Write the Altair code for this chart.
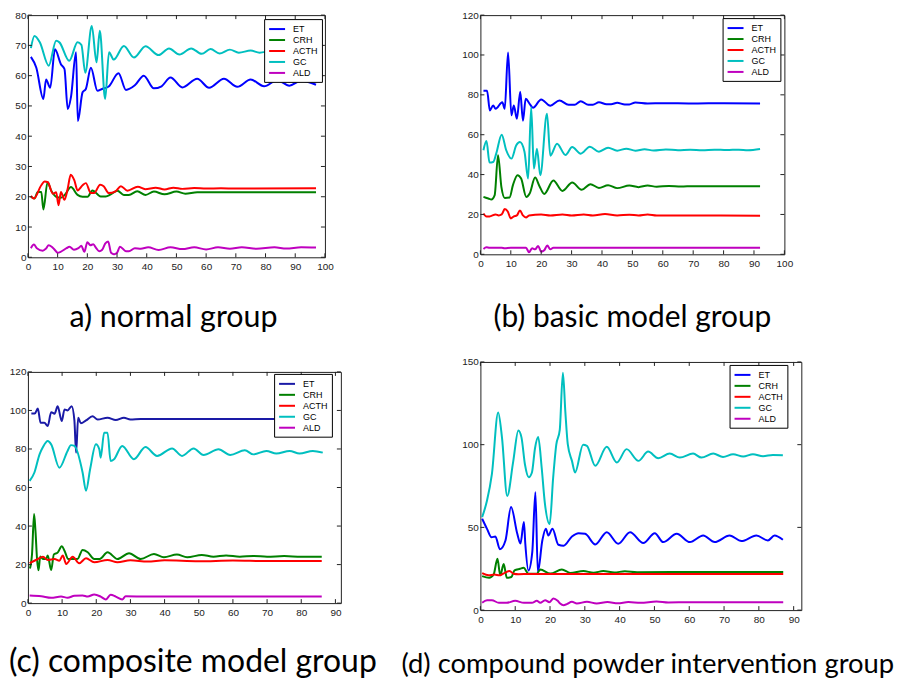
import altair as alt
import pandas as pd

SERIES = ["ET", "CRH", "ACTH", "GC", "ALD"]

# ---------------- panel a) normal group ----------------
a_ET_x = [1, 2.8, 5.2, 6.1, 7.5, 9.1, 11.1, 12.3, 13.4, 14.5, 16.2, 16.8, 18.4, 19.5, 21.2, 23.4, 25, 27.2, 30.5, 33, 36, 39, 42.4, 45, 48, 52, 57, 61, 66, 70.5, 75, 79.5, 84, 88, 92, 97]
a_ET_y = [66.2, 62.7, 52.3, 58.7, 56, 68.7, 63.8, 62.2, 49, 53, 67.7, 45, 54.5, 55.6, 62.6, 55, 55.6, 56.4, 60.8, 55.3, 56.8, 60, 55.8, 56.5, 59.4, 56.1, 59, 56, 59, 56.3, 58.7, 56.5, 58.5, 56.7, 58.3, 57]
a_CRH_x = [1, 2.2, 3.3, 4.5, 5.2, 6.6, 7.8, 9.5, 11.1, 12.3, 14.5, 16.7, 18.4, 20.1, 21.7, 24.5, 26.2, 27.9, 30.1, 32.3, 34, 36.8, 39.6, 42.4, 46, 50, 53, 57, 60, 65, 70, 80, 97]
a_CRH_y = [20, 19.4, 21.6, 21.6, 15.8, 24.8, 22.1, 20, 19.7, 20.5, 23.2, 20.6, 20, 20, 22.1, 20.1, 20.1, 20.8, 22, 20.6, 20.6, 21.8, 20.6, 21.7, 20.8, 21.7, 21, 21.5, 21.5, 21.5, 21.5, 21.5, 21.5]
a_ACTH_x = [1, 2, 4.5, 5.6, 6.7, 8.4, 9.5, 10.3, 11.1, 12.3, 13.4, 14.4, 15.6, 16.7, 18.4, 19.5, 21.2, 22.3, 24.3, 25.5, 27.2, 29.5, 31.3, 33.5, 37, 39.5, 43, 46, 49, 52, 56, 60, 65, 70, 97]
a_ACTH_y = [20.3, 19.4, 23.8, 25, 24.8, 21, 21.5, 17.2, 21.6, 19, 22.7, 27.3, 25.5, 22.1, 23.8, 24.5, 21.2, 21.2, 24, 23.5, 21.2, 21.8, 23.5, 22, 23.3, 22.5, 23, 22.4, 23, 22.6, 22.9, 22.7, 22.8, 22.7, 22.8]
a_GC_x = [1, 2.2, 4, 7, 9.5, 10.6, 13.9, 16.7, 18, 19.3, 21.5, 23.1, 24.2, 26, 27.3, 28.9, 32.3, 35.7, 39.6, 44, 47.5, 51, 55, 58.5, 61.5, 64.5, 68, 71, 75, 78, 82, 86, 90, 94, 97]
a_GC_y = [69.1, 73.1, 71, 63.3, 71.5, 71, 64.9, 71, 70.2, 61, 76.4, 64.4, 74.8, 52.3, 67.7, 65.3, 69.8, 66, 69.7, 66.8, 69, 67, 69, 67.2, 68.8, 67.3, 68.6, 67.6, 68.3, 67.6, 68.1, 67.7, 68, 67.8, 67.9]
a_ALD_x = [1, 2, 3, 5, 6, 7, 8, 9, 10, 11, 13, 14, 15.5, 17, 18, 19, 20, 21, 22, 23, 24, 25, 26, 27, 28, 29, 30, 31, 33, 34, 36, 38, 40.5, 44, 48, 52, 56, 60, 64, 68, 72, 77, 83, 87, 92, 97]
a_ALD_y = [3, 4.2, 3, 2.2, 2.8, 4, 3.5, 2.5, 1.5, 1.8, 3, 3.5, 2.5, 3, 3.8, 1.8, 5, 4, 4.3, 3, 2, 2.5, 4.5, 5.2, 1.5, 1, 1.5, 3.5, 2, 2, 3, 2.8, 3.3, 2.4, 3.3, 2.7, 3.3, 2.6, 3.3, 2.8, 3.3, 2.8, 3.3, 2.9, 3.3, 3.2]

# ---------------- panel (b) basic model group ----------------
b_ET_x = [1, 2.2, 3.1, 4.2, 5, 7.2, 8, 9.1, 10.2, 11, 12, 13.1, 14, 14.9, 16.2, 17.3, 20, 23, 26, 29, 31, 33, 35.5, 37, 39, 41.5, 43, 45, 47.5, 49, 51, 55, 60, 70, 80, 92]
b_ET_y = [82, 82, 72.2, 74.7, 73, 76.3, 73, 101.3, 69.7, 74.7, 68, 81.5, 67, 78, 75.5, 73.5, 77.7, 74.5, 77.2, 75, 75, 76.8, 75, 75, 76.3, 75.3, 75.3, 76, 75.2, 75.2, 76.2, 75.7, 75.8, 75.7, 75.8, 75.7]
b_CRH_x = [1, 2.6, 3.6, 4.7, 5.8, 6.9, 8, 9.6, 10.7, 12.2, 13.4, 15.1, 16.2, 18, 19.4, 21, 24, 27, 30.2, 33.3, 36.2, 39, 42, 45, 49, 52, 55, 58, 62, 66, 70, 80, 92]
b_CRH_y = [28.8, 28, 27.5, 29.7, 49.7, 33.8, 28.3, 28.5, 34.7, 39.7, 38, 28.8, 30.5, 38.5, 34.3, 30.3, 37, 31.8, 36, 32.4, 35.2, 33.3, 34.7, 33.2, 34.5, 33.7, 34.5, 33.9, 34.3, 34, 34.2, 34.2, 34.2]
b_ACTH_x = [1, 2, 3, 5, 6, 7, 8, 9, 10, 11, 12, 13, 14, 15, 16, 20, 23, 27, 30, 34, 37, 41, 45, 49, 52, 55, 58, 70, 92]
b_ACTH_y = [20.5, 19, 19, 20, 19.5, 20, 22.7, 21.5, 18, 19, 19.5, 22, 19.5, 18.5, 19.5, 20, 19.5, 20, 19.5, 20, 19.5, 20.2, 19.5, 19.9, 19.5, 20, 19.5, 19.5, 19.4]
b_GC_x = [1, 2, 3, 4.2, 5.2, 7, 8.5, 10.2, 11.8, 13, 14.5, 15.7, 16.7, 17.6, 18.6, 19.7, 21.9, 23, 25.2, 28, 30.2, 33, 36, 39, 42, 45, 48, 51, 54, 57, 61, 65, 69, 73, 77, 81, 85, 88, 92]
b_GC_y = [52.2, 56.8, 46, 46.3, 50.5, 60, 52.2, 48, 54.7, 56.3, 51.5, 38, 73.8, 43, 53, 39.7, 70.5, 49.5, 55.5, 49.8, 53.8, 50.5, 54, 51.5, 53.5, 52, 53, 52, 52.7, 52.1, 52.6, 52.2, 52.5, 52.2, 52.5, 52.3, 52.5, 52.2, 52.8]
b_ALD_x = [1, 2, 3, 5, 7, 8, 10, 15, 16, 17, 18, 19, 20, 21, 22, 23, 24, 30, 92]
b_ALD_y = [2.7, 3.5, 3.3, 3.3, 3.3, 3, 3.3, 3.3, 1, 3, 2.5, 4.2, 1.3, 2, 4.4, 2.5, 3.3, 3.3, 3.3]

# ---------------- panel (c) composite model group ----------------
c_ET_x = [1, 2, 2.9, 3.7, 4.8, 5.8, 6.8, 7.8, 8.7, 9.9, 10.7, 11.6, 12.8, 13.6, 14.1, 14.7, 15.5, 17, 18.9, 20.4, 23.3, 25.7, 28.1, 30, 33, 40, 60, 86]
c_ET_y = [98.4, 98.4, 101, 93.6, 93.6, 91.9, 99.1, 98.3, 102.2, 94.5, 100.5, 100, 102.2, 94.8, 78.1, 96.2, 93.3, 94.8, 97, 95.3, 96.2, 95, 96.2, 95.3, 95.6, 95.5, 95.5, 95.5]
c_CRH_x = [0.6, 1.2, 1.8, 2.2, 2.7, 3.1, 3.6, 4.4, 5.3, 5.8, 6.8, 7.6, 8.7, 9.9, 10.7, 11.8, 13.1, 14.5, 16, 17.5, 19.4, 21, 23.3, 26.2, 29.6, 33, 36.9, 39.8, 43.6, 46.6, 50.9, 54.3, 58, 62, 66, 70, 75, 80, 86]
c_CRH_y = [18, 25.5, 46.2, 37.6, 22, 17, 24.2, 22.9, 22.9, 24.7, 17.2, 25.3, 26.2, 29.5, 27.2, 22.9, 22.9, 22.9, 27.6, 26.4, 22.9, 22.9, 26.4, 22.9, 25.9, 22.9, 25.5, 23.8, 25.2, 23.8, 25, 24.1, 24.7, 24.1, 24.5, 24.1, 24.4, 24.1, 24.1]
c_ACTH_x = [0.5, 2.9, 4.4, 5.8, 7.8, 9.2, 10.2, 11.2, 13.1, 15, 17, 19.4, 23.3, 26.2, 30, 35, 40, 50, 60, 70, 86]
c_ACTH_y = [20.7, 22.9, 24.1, 22.4, 22.9, 22, 24.7, 20.3, 24.1, 20.7, 23.3, 21.2, 22.4, 21.2, 22.2, 21.6, 22.2, 21.7, 22.1, 21.8, 21.8]
c_GC_x = [0.5, 1.9, 3.4, 4.4, 5.8, 6.8, 9.2, 11.6, 12.6, 13.6, 16, 17, 18.2, 19.9, 20.9, 21.3, 22.3, 23.3, 24.2, 25.2, 27.6, 31, 34.4, 37.8, 42.2, 45.1, 48.5, 51.4, 55.8, 59.2, 63.5, 66, 69.8, 72.7, 76.6, 79.5, 83.4, 86.3]
c_GC_y = [63.4, 67.8, 77.2, 81, 84.1, 82.4, 70.3, 79, 82, 81.6, 67.8, 58.3, 69.5, 82.4, 79.8, 75.5, 88.4, 88.4, 73.8, 74.7, 81.6, 74.7, 81, 76.4, 80.3, 76.4, 80.3, 76.9, 79.8, 76.9, 79.3, 77.2, 79, 77.6, 79, 77.6, 79, 78.1]
c_ALD_x = [0.5, 3.9, 6.8, 9.7, 11.6, 13.6, 16, 17.5, 19.4, 21.3, 22.8, 24.2, 25.7, 27.6, 28.6, 35, 86]
c_ALD_y = [4, 3.6, 2.8, 3.4, 2.8, 3.8, 4, 3.4, 4.5, 3.4, 1.9, 4.3, 3.4, 1.9, 3.6, 3.4, 3.4]

# ---------------- panel (d) compound powder intervention group ----------------
d_ET_x = [0.5, 1.9, 3.2, 4.3, 5.6, 7.2, 8.8, 10.6, 11.5, 12.5, 12.9, 13.8, 14.9, 15.8, 16.5, 17.8, 18.8, 19.5, 20.7, 22.4, 23.9, 26.3, 28.2, 30.1, 33, 36.3, 39.6, 43, 46.8, 50.1, 52.5, 56.4, 60.2, 64, 67.3, 71.6, 75, 79.3, 82.6, 84.5, 86.9]
d_ET_y = [55.2, 49.1, 44, 44.5, 36.8, 42.1, 62.3, 46.1, 40.2, 53.2, 40.1, 23.9, 35, 71.3, 23, 42.2, 49.2, 45.1, 49.2, 39.5, 38.9, 44.5, 46.5, 46.1, 39.7, 47.1, 40.1, 47.1, 40.5, 46.5, 41.1, 46.1, 41.1, 45.1, 41.1, 45.1, 41.7, 45.1, 42.1, 45.1, 42.5]
d_CRH_x = [0.5, 2.5, 3.8, 4.9, 5.7, 6.7, 7.6, 8.9, 9.8, 11.4, 12.4, 13.8, 16.2, 17.2, 20.1, 23.4, 25.8, 29.6, 32.5, 35.3, 38.5, 41.5, 45, 55, 70, 87]
d_CRH_y = [20.5, 19.5, 21.5, 31, 21, 27.8, 19.5, 20, 24, 25, 25.6, 22, 22, 24.5, 22.1, 24.5, 22.5, 23.6, 22.6, 23.6, 22.7, 23.5, 22.9, 23, 23, 23]
d_ACTH_x = [0.5, 2.4, 4, 5.5, 7, 8.4, 9.5, 11, 14, 20, 87]
d_ACTH_y = [22.3, 21, 21.5, 21, 22.5, 23.6, 22, 21.7, 21.8, 21.8, 21.8]
d_GC_x = [0.5, 1.9, 3.3, 5.1, 6.2, 7.7, 9.4, 10.9, 11.8, 12.8, 13.9, 14.8, 15.7, 16.6, 17.6, 18.5, 19.9, 20.9, 21.8, 22.8, 23.7, 24.4, 25.1, 26.3, 27.2, 29.5, 30.6, 33, 36.3, 39.2, 42, 45.4, 48.2, 51.1, 54.4, 57.3, 61.1, 63.5, 66.9, 69.7, 72.6, 75.5, 78.3, 81.2, 84, 86.9]
d_GC_y = [56.2, 66.2, 82.2, 119.4, 104.3, 69, 89.4, 108.6, 104.4, 88, 80.3, 83.2, 98, 104.6, 86.2, 65, 52, 80, 100, 109, 143.5, 120, 100.3, 90.2, 83.2, 100, 99.3, 87.2, 98.7, 89.2, 97.3, 90.2, 95.8, 91.8, 94.6, 92.2, 94.6, 92.2, 94.6, 92.6, 94.2, 92.8, 94.2, 93, 93.8, 93.6]
d_ALD_x = [0.5, 1.9, 3.3, 5.3, 7.5, 10, 12.5, 14.8, 16.2, 17.2, 18.6, 19.8, 21, 22.2, 22.9, 23.9, 24.8, 26.3, 27.7, 30.6, 33.4, 36.5, 39.5, 42.5, 46, 50.6, 54, 60, 87]
d_ALD_y = [4.4, 6, 6, 4.4, 4.4, 5.6, 4.4, 4.4, 5.6, 4.4, 6, 4.8, 7, 5.6, 4, 3, 3.6, 5, 4, 5, 4, 4.9, 4.1, 4.9, 4.4, 5.2, 4.6, 4.8, 4.8]

# axis ticks
a_xticks = [0, 10, 20, 30, 40, 50, 60, 70, 80, 90, 100]
a_yticks = [0, 10, 20, 30, 40, 50, 60, 70, 80]
b_xticks = [0, 10, 20, 30, 40, 50, 60, 70, 80, 90, 100]
b_yticks = [0, 20, 40, 60, 80, 100, 120]
c_xticks = [0, 10, 20, 30, 40, 50, 60, 70, 80, 90]
c_yticks = [0, 20, 40, 60, 80, 100, 120]
d_xticks = [0, 10, 20, 30, 40, 50, 60, 70, 80, 90]
d_yticks = [0, 50, 100, 150]

COLORS = ["#0000FF", "#008000", "#FF0000", "#00BFBF", "#BF00BF"]
COLORS_C = ["#1A1AA6", "#008000", "#FF0000", "#00BFBF", "#BF00BF"]

LABEL_FONT = "Liberation Sans"
CAP_FONT = "Lato"


def make_df(prefix):
    g = globals()
    rows = []
    for s in SERIES:
        for x, y in zip(g[f"{prefix}_{s}_x"], g[f"{prefix}_{s}_y"]):
            rows.append({"series": s, "x": x, "y": y})
    return pd.DataFrame(rows)


def panel(prefix, colors, xmax, xticks, ymax, yticks, W, H, caption,
          cap_size, cap_dx, cap_offset, leg_x, leg_y):
    df = make_df(prefix)
    xs = alt.Scale(domain=[0, xmax], nice=False, zero=False)
    ys = alt.Scale(domain=[0, ymax], nice=False, zero=False)
    xax = alt.Axis(values=xticks, title=None, format="d")
    yax = alt.Axis(values=yticks, title=None, format="d")
    lines = alt.Chart(df).mark_line(strokeWidth=2, interpolate="monotone").encode(
        x=alt.X("x:Q", scale=xs, axis=xax),
        y=alt.Y("y:Q", scale=ys, axis=yax),
        color=alt.Color("series:N",
                        scale=alt.Scale(domain=SERIES, range=colors),
                        sort=SERIES,
                        legend=alt.Legend(title=None, orient="none",
                                          legendX=leg_x, legendY=leg_y,
                                          fillColor="white",
                                          strokeColor="black",
                                          padding=4, cornerRadius=0,
                                          symbolType="M-1.6,0H1.6",
                                          symbolSize=100,
                                          symbolOffset=3,
                                          symbolStrokeWidth=2,
                                          labelFont=LABEL_FONT,
                                          labelFontSize=9,
                                          labelOffset=10,
                                          rowPadding=0)),
        detail="series:N",
    )
    tx = pd.DataFrame({"x": xticks})
    ty = pd.DataFrame({"y": yticks})
    tick = dict(color="#222222", strokeWidth=1)
    bot = alt.Chart(tx).mark_rule(**tick).encode(
        x=alt.X("x:Q", scale=xs, axis=xax), y=alt.value(H), y2=alt.value(H - 4))
    top = alt.Chart(tx).mark_rule(**tick).encode(
        x=alt.X("x:Q", scale=xs, axis=xax), y=alt.value(0), y2=alt.value(4))
    lft = alt.Chart(ty).mark_rule(**tick).encode(
        y=alt.Y("y:Q", scale=ys, axis=yax), x=alt.value(0), x2=alt.value(4))
    rgt = alt.Chart(ty).mark_rule(**tick).encode(
        y=alt.Y("y:Q", scale=ys, axis=yax), x=alt.value(W), x2=alt.value(W - 4))
    return alt.layer(lines, bot, top, lft, rgt).properties(
        width=W, height=H,
        title=alt.TitleParams(text=caption, orient="bottom", anchor="middle",
                              font=CAP_FONT, fontSize=cap_size,
                              fontWeight="normal", color="black",
                              dx=cap_dx, offset=cap_offset),
    )


pa = panel("a", COLORS, 100, a_xticks, 80, a_yticks, 298, 243,
           "a) normal group", 30.5, -3, 32, 237, 4)
pb = panel("b", COLORS, 100, b_xticks, 120, b_yticks, 305, 240,
           "(b) basic model group", 30, 0, 35, 243, 3)
pc = panel("c", COLORS_C, 91.6, c_xticks, 120, c_yticks, 314, 232,
           "(c) composite model group", 32, 8.5, 30, 247, 2)
pd_ = panel("d", COLORS, 92.2, d_xticks, 150, d_yticks, 322, 249,
            "(d) compound powder intervention group", 27.5, 7, 27, 250, 3)

left = alt.vconcat(pa, pc, spacing=115, bounds="flush").resolve_scale(color="independent")
right = alt.vconcat(pb, pd_, spacing=108, bounds="flush").resolve_scale(color="independent")

chart = alt.hconcat(left, right, spacing=22).resolve_scale(
    color="independent"
).properties(
    padding={"left": 0, "top": 0, "right": 0, "bottom": 0}
).configure_view(
    stroke="#222222", strokeWidth=1
).configure_axis(
    grid=False, domain=False, ticks=False, tickSize=0,
    labelFont=LABEL_FONT, labelFontSize=10, labelColor="#222222",
    labelFlush=False, labelOverlap=False,
).configure_axisX(labelPadding=4).configure_axisY(labelPadding=2)

chart.save("out.html", embed_options={"renderer": "svg", "actions": False})
